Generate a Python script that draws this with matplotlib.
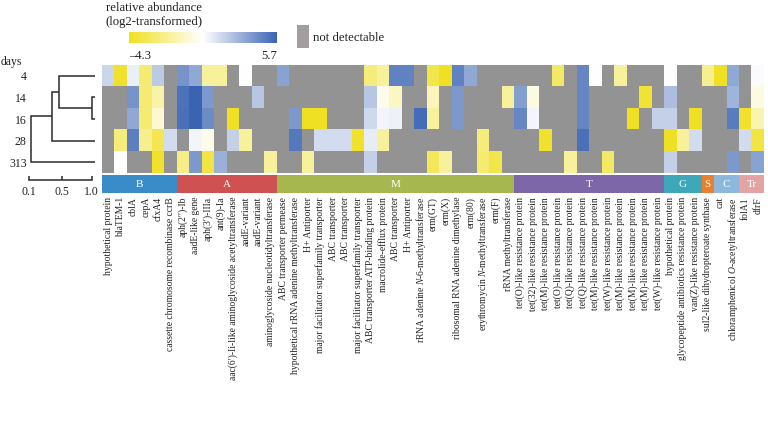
import numpy as np
import matplotlib
matplotlib.use('Agg')
import matplotlib.pyplot as plt
from matplotlib.colors import LinearSegmentedColormap, Normalize
from matplotlib.cm import ScalarMappable
from matplotlib.patches import Rectangle

plt.rcParams['font.family'] = ['Liberation Serif', 'DejaVu Serif']
plt.rcParams['mathtext.fontset'] = 'custom'
plt.rcParams['mathtext.rm'] = 'Liberation Serif'
plt.rcParams['mathtext.it'] = 'Liberation Serif:italic'

nan = np.nan

days = ['4', '14', '16', '28', '313']

genes = [
    'hypothetical protein', 'blaTEM-1', 'cblA', 'cepA', 'cfxA4',
    'cassette chromosome recombinase ccrB',
    'aph(2\u2032\u2032)-Ib', 'aadE-like gene', 'aph(3\u2032)-IIIa', 'ant(9)-Ia',
    'aac(6\u2032)-Ii-like aminoglycoside acetyltransferase', 'aadE-variant',
    'aadE-variant', 'aminoglycoside nucleotidyltransferase',
    'ABC transporter permease', 'hypothetical rRNA adenine methyltransferase',
    'H+ Antiporter', 'major facilitator superfamily transporter',
    'ABC transporter', 'ABC transporter',
    'major facilitator superfamily transporter',
    'ABC transporter ATP-binding protein', 'macrolide-efflux protein',
    'ABC transporter', 'H+ Antiporter', 'rRNA adenine $N$-6-methyltransferase',
    'erm(GT)', 'erm(X)', 'ribosomal RNA adenine dimethylase', 'erm(80)',
    'erythromycin $N$-methyltransferase', 'erm(F)', 'rRNA methyltransferase',
    'tet(O)-like resistance protein', 'tet(32)-like resistance protein',
    'tet(M)-like resistance protein', 'tet(O)-like resistance protein',
    'tet(Q)-like resistance protein', 'tet(Q)-like resistance protein',
    'tet(M)-like resistance protein', 'tet(W)-like resistance protein',
    'tet(M)-like resistance protein', 'tet(M)-like resistance protein',
    'tet(M)-like resistance protein', 'tet(W)-like resistance protein',
    'hypothetical protein', 'glycopeptide antibiotics resistance protein',
    'van(Z)-like resistance protein',
    'sul2-like dihydropteroate synthase',
    'cat', 'chloramphenicol $O$-acetyltransferase',
    'folA1', 'dfrF',
]

groups = ['B', 'A', 'M', 'T', 'G', 'S', 'C', 'Tr']
group_sizes = [6, 8, 19, 12, 3, 1, 2, 2]
group_colors = ['#3a8cc8', '#cf5151', '#a7b74f', '#7e67a8', '#3ea7b9',
                '#ea7f2d', '#8cb8dc', '#e3a3a3']

# log2 relative abundance, nan = not detectable
day4 = [2.0, -4.0, 1.2, -2.5, 2.4, nan, 4.1, 3.5, -1.5, -1.5, nan, 0.7, nan,
        nan, 3.7, nan, nan, nan, nan, nan, nan, -2.2, -1.5, 4.7, 4.7, nan,
        -3.3, -4.2, 4.7, 3.5, nan, nan, nan, nan, nan, nan, -2.8, nan, 4.6,
        0.7, nan, -1.5, nan, nan, nan, 0.7, nan, nan, -1.8, -4.2, 3.5, nan, 0.8]
day14 = [nan, nan, 4.1, -2.5, -1.2, nan, 5.2, 5.7, 4.0, nan, nan, nan, 2.5,
         nan, nan, nan, nan, nan, nan, nan, nan, 2.5, 0.3, -0.6, nan, nan,
         -0.8, nan, 4.0, nan, nan, nan, -1.5, 3.8, 0.0, nan, nan, nan, 4.6,
         nan, nan, nan, nan, -3.8, nan, 2.8, nan, nan, nan, nan, 3.1, nan, 0.0]
day16 = [nan, nan, 3.5, -2.5, -0.3, nan, 5.3, 5.7, 4.4, nan, -4.2, nan, nan,
         nan, nan, 4.0, -4.2, -4.2, nan, nan, nan, 1.9, 1.0, 1.1, nan, 5.4,
         -1.5, nan, 4.0, nan, nan, nan, nan, 4.6, 1.0, nan, nan, nan, 4.6,
         nan, nan, nan, -4.2, nan, 2.2, 2.2, nan, -4.2, nan, nan, 4.9, -4.0, -1.0]
day28 = [nan, -2.3, 4.8, -1.8, -3.2, 1.8, nan, 1.0, 0.2, nan, 2.2, -1.5, nan,
         nan, nan, 5.0, nan, 1.8, 1.8, 1.8, -4.0, 1.3, -1.5, nan, nan, nan,
         nan, nan, nan, nan, -2.2, nan, nan, nan, nan, -4.0, nan, nan, 5.3,
         nan, nan, nan, nan, nan, nan, -4.2, -1.5, 1.8, nan, nan, nan, 1.8, -3.5]
day313 = [nan, 0.7, nan, nan, -4.0, nan, -2.0, 4.0, -3.5, 3.2, nan, nan, nan,
          -1.5, nan, nan, -1.5, nan, nan, nan, nan, 2.2, nan, nan, nan, nan,
          -3.0, -1.5, nan, nan, -2.5, -3.3, nan, nan, nan, nan, nan, -1.5, nan,
          nan, -2.8, nan, nan, nan, nan, 2.2, nan, nan, nan, nan, 4.0, nan, 3.7]

vmin, vmax = -4.3, 5.7

# dendrogram (scipy-like linkage: index >= 5 refers to merged cluster)
dend_pairs = [(1, 2), (0, 5), (6, 3), (7, 4)]
dend_heights = [1.0, 0.464, 0.358, 0.116]
leaf_pos = 1.06

W, H = 768, 423
fig = plt.figure(figsize=(W / 100, H / 100), dpi=100)


def box(x0, y0, x1, y1):
    return [x0 / W, 1 - y1 / H, (x1 - x0) / W, (y1 - y0) / H]


cmap = LinearSegmentedColormap.from_list(
    'yw_b', ['#f0e020', '#ffffff', '#3a64b3'])
cmap.set_bad('#939393')
norm = Normalize(vmin=vmin, vmax=vmax)

data = np.ma.masked_invalid(np.array([day4, day14, day16, day28, day313]))

# heatmap
ax = fig.add_axes(box(102, 65, 764, 173.3))
ax.imshow(data, cmap=cmap, norm=norm, aspect='auto', interpolation='nearest')
ax.set_xticks([])
ax.set_yticks([])
for s in ax.spines.values():
    s.set_visible(False)

# category bar + gene labels
axc = fig.add_axes(box(102, 175.5, 764, 193.5))
starts = np.concatenate([[0], np.cumsum(group_sizes)[:-1]])
axc.barh(0, group_sizes, left=starts - 0.5, height=1, color=group_colors,
         edgecolor='none')
for g, st, sz in zip(groups, starts, group_sizes):
    axc.text(st - 0.5 + sz / 2, 0, g, color='white', ha='center', va='center',
             fontsize=8)
axc.set_xlim(-0.5, len(genes) - 0.5)
axc.set_ylim(-0.5, 0.5)
axc.set_yticks([])
axc.set_xticks(np.arange(len(genes)))
axc.set_xticklabels(genes, rotation=90, fontsize=6.9, color='#222222')
axc.tick_params(axis='x', length=0, pad=2.5)
for s in axc.spines.values():
    s.set_visible(False)

# dendrogram
axd = fig.add_axes(box(28, 65, 100, 180))
fwd = lambda x: np.sign(x) * np.abs(x) ** 0.7
inv = lambda y: np.sign(y) * np.abs(y) ** (1 / 0.7)
axd.set_xscale('function', functions=(fwd, inv))
pos = {i: (leaf_pos, float(i)) for i in range(len(days))}
for k, ((a, b), h) in enumerate(zip(dend_pairs, dend_heights)):
    xa, ya = pos[a]
    xb, yb = pos[b]
    axd.plot([xa, h, h, xb], [ya, ya, yb, yb], color='#2b2b2b', lw=1.1,
             solid_joinstyle='miter', solid_capstyle='butt')
    pos[len(days) + k] = (h, (ya + yb) / 2)
axd.set_xlim(0.0882, 1.156)
axd.set_ylim(4.5 + 6.7 / 21.66, -0.5)
axd.set_yticks(range(len(days)))
axd.set_yticklabels(days, fontsize=8.5, color='#222222')
axd.tick_params(axis='y', length=0, pad=1)
axd.set_xticks([0.1, 0.5, 1.0])
axd.set_xticklabels(['0.1', '0.5', '1.0'], fontsize=8.5, color='#222222')
axd.xaxis.set_minor_locator(matplotlib.ticker.NullLocator())
axd.tick_params(axis='x', direction='in', length=3, width=1.1, pad=4,
                color='#2b2b2b')
for s in ['top', 'right', 'left']:
    axd.spines[s].set_visible(False)
axd.spines['bottom'].set_bounds(0.1, 1.0)
axd.spines['bottom'].set_linewidth(1.1)
axd.spines['bottom'].set_color('#2b2b2b')
axd.patch.set_visible(False)

fig.text(1 / W, 1 - 62 / H, 'days', fontsize=8.5, ha='left', va='center',
         color='#222222')

# colour legend
cax = fig.add_axes(box(129, 32, 277, 43))
cb = fig.colorbar(ScalarMappable(norm=norm, cmap=cmap), cax=cax,
                  orientation='horizontal', ticks=[vmin, vmax])
cb.outline.set_visible(False)
cax.set_xticklabels(['\u2013' + f'{abs(vmin):.1f}', f'{vmax:.1f}'],
                    fontsize=9, color='#222222')
for lab, ha in zip(cax.get_xticklabels(), ['left', 'right']):
    lab.set_horizontalalignment(ha)
cax.tick_params(length=0, pad=5)
fig.text(154 / W, 1 - 8 / H, 'relative abundance', fontsize=9.2,
         ha='center', va='center', color='#222222')
fig.text(154 / W, 1 - 21.5 / H, '(log2-transformed)', fontsize=9.2,
         ha='center', va='center', color='#222222')

fig.add_artist(Rectangle((297 / W, 1 - 48 / H), 12 / W, 23 / H,
                         transform=fig.transFigure, facecolor='#a29e9e',
                         edgecolor='none'))
fig.text(313 / W, 1 - 38 / H, 'not detectable', fontsize=9.2, ha='left',
         va='center', color='#222222')

fig.savefig('out.png', dpi=100)
